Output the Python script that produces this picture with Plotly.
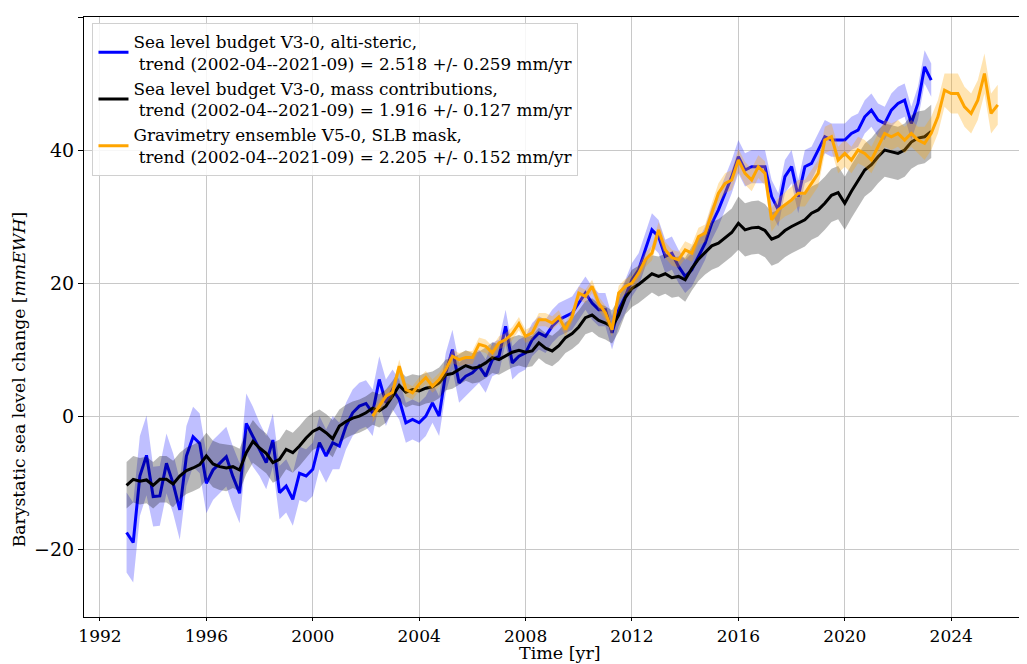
import numpy as np
import plotly.graph_objects as go

# ---------------- data (quarterly samples) ----------------
blue_start = 1993.0
blue_vals = [
    -17.5, -19.0, -9.0, -5.9,
    -12.1, -12.0, -7.1, -10.1,
    -14.1, -6.0, -3.1, -4.1,
    -10.1, -8.1, -7.1, -6.1,
    -9.1, -11.6, -1.1, -3.1,
    -5.0, -7.0, -3.6, -11.5,
    -10.5, -12.5, -8.6, -9.0,
    -8.0, -4.0, -6.0, -4.0,
    -4.5, -1.5, 0.5, 1.5,
    1.9, 0.5, 5.5, 2.0,
    4.0, 2.5, -1.0, -0.5,
    -1.0, 0.0, 2.0, 0.0,
    6.5, 10.0, 5.0, 6.0,
    6.5, 7.5, 6.0, 8.5,
    9.0, 13.5, 8.0, 9.0,
    9.5, 11.5, 12.5, 12.0,
    13.5, 14.5, 15.0, 15.5,
    17.0, 18.5, 17.0, 16.0,
    16.0, 12.5, 16.0, 18.0,
    20.5, 22.0, 25.0, 28.0,
    27.0, 24.0, 24.5, 22.5,
    21.0, 22.0, 24.0, 26.0,
    29.0, 31.0, 33.5, 36.0,
    39.0, 37.0, 37.5, 37.5,
    37.5, 33.0, 31.0, 36.0,
    37.5, 33.0, 37.5, 38.0,
    40.0, 42.0, 41.5, 41.5,
    41.5, 42.5, 43.0, 45.0,
    46.0, 44.5, 44.0, 46.0,
    47.0, 47.5, 44.0, 47.0,
    52.5, 50.5,
]
# yearly 1-sigma half widths 1993..2023
blue_unc_yearly = [6.0, 4.5, 4.5, 4.5, 4.5, 4.0, 4.0, 4.0, 3.5, 3.5, 3.0, 3.0, 3.0,
                   2.5, 2.5, 2.5, 2.5, 2.5, 2.5, 2.5, 2.5, 2.5, 2.5, 2.5, 2.5, 2.5,
                   2.5, 2.5, 2.5, 2.5, 2.5]

black_start = 1993.0
black_vals = [
    -10.4, -9.5, -9.8, -9.6,
    -10.4, -9.5, -9.5, -10.2,
    -9.0, -8.2, -7.8, -7.3,
    -6.0, -7.2, -7.6, -7.8,
    -7.6, -8.1, -5.5, -3.8,
    -4.8, -5.6, -7.0, -6.5,
    -5.0, -5.5, -4.5, -3.3,
    -2.3, -1.8, -2.5, -3.4,
    -1.5, -0.8, -0.3, 0.0,
    0.5, 1.2, 0.8, 1.5,
    3.0, 4.6, 3.6, 4.0,
    3.8, 4.2, 4.4, 5.0,
    6.2, 6.4, 7.0, 7.6,
    7.2, 7.4, 8.0, 8.8,
    8.5, 9.0, 9.6, 9.9,
    9.6, 9.8, 11.0, 10.2,
    9.8, 10.6, 11.8, 12.4,
    13.4, 14.8, 15.2, 14.4,
    14.0, 13.4, 15.2, 17.8,
    19.2, 19.8, 20.6, 21.4,
    21.0, 21.4, 20.8, 21.0,
    20.5, 22.2, 23.6, 24.6,
    25.6, 26.0, 26.8, 27.6,
    29.0, 28.0, 28.3, 28.4,
    27.9, 26.6, 27.0, 27.9,
    28.5, 29.0, 29.5, 30.5,
    31.0, 32.0, 33.2, 33.6,
    32.0, 33.8, 35.5, 37.0,
    37.8, 39.0, 40.0, 39.8,
    39.5, 40.0, 41.2, 41.8,
    42.0, 42.8,
]
black_unc_yearly = [3.5, 3.5, 3.5, 3.5, 3.2, 3.0, 3.0, 2.8, 2.5, 2.5, 2.3, 2.3, 2.3,
                    2.3, 2.3, 2.3, 2.3, 2.5, 2.5, 2.8, 3.0, 3.3, 3.6, 4.0, 4.0, 4.0,
                    4.0, 4.0, 4.0, 4.0, 4.0]

orange_start = 2002.25
orange_vals = [
    0.0, 1.5, 3.0,
    3.6, 7.5, 4.0, 3.5,
    4.8, 5.8, 4.5, 5.5,
    7.0, 9.0, 8.5, 8.8,
    8.8, 10.8, 10.5, 9.5,
    11.0, 11.5, 12.4, 13.9,
    12.0, 12.5, 14.5, 14.5,
    14.0, 14.9, 13.0, 15.0,
    18.5, 18.0, 19.5, 17.0,
    15.5, 13.0, 18.5, 19.5,
    20.0, 21.5, 23.5, 24.5,
    28.0, 25.0, 23.8, 23.5,
    25.0, 24.5, 27.0, 27.5,
    30.5, 33.5, 35.0, 35.5,
    38.5, 36.5, 35.5, 37.5,
    36.5, 29.5, 31.0, 31.8,
    32.5, 33.5, 33.5, 35.0,
    36.5, 41.5, 42.0, 38.5,
    39.5, 38.5, 40.0, 39.5,
    38.5, 40.5, 42.5, 42.0,
    42.5, 41.5, 42.5, 41.5,
    41.0, 42.5, 45.0, 49.0,
    48.5, 48.5, 46.5, 45.5,
    47.5, 51.5, 45.5, 46.8,
]
# yearly half widths 2002..2025
orange_unc_yearly = [1.0, 1.0, 1.0, 1.0, 1.0, 1.0, 1.0, 1.0, 1.0, 1.1, 1.1, 1.2,
                     1.3, 1.5, 1.7, 1.8, 2.0, 2.0, 2.0, 2.0, 2.0, 2.5, 3.0, 3.0]

labels = [
    "Sea level budget V3-0, alti-steric,<br> trend (2002-04--2021-09) = 2.518 +/- 0.259 mm/yr",
    "Sea level budget V3-0, mass contributions,<br> trend (2002-04--2021-09) = 1.916 +/- 0.127 mm/yr",
    "Gravimetry ensemble V5-0, SLB mask,<br> trend (2002-04--2021-09) = 2.205 +/- 0.152 mm/yr",
]
x_ticks = [1992, 1996, 2000, 2004, 2008, 2012, 2016, 2020, 2024]
y_ticks = [-20, 0, 20, 40, 60]


def series(start, vals, unc_yearly, offset):
    v = np.array(vals, dtype=float)
    t = start + 0.25 * np.arange(len(v))
    u = np.repeat(np.array(unc_yearly, dtype=float), 4)[offset:offset + len(v)]
    return t, v, u


fig = go.Figure()

specs = [
    (blue_start, blue_vals, blue_unc_yearly, 0, "#0000ff", "rgba(0,0,255,0.25)", labels[0]),
    (black_start, black_vals, black_unc_yearly, 0, "#000000", "rgba(0,0,0,0.28)", labels[1]),
    (orange_start, orange_vals, orange_unc_yearly, 1, "#ffa500", "rgba(255,165,0,0.3)", labels[2]),
]

for start, vals, unc, off, col, fillcol, lab in specs:
    t, v, u = series(start, vals, unc, off)
    fig.add_trace(go.Scatter(x=t, y=v - u, mode="lines", line=dict(width=0),
                             showlegend=False, hoverinfo="skip"))
    fig.add_trace(go.Scatter(x=t, y=v + u, mode="lines", line=dict(width=0),
                             fill="tonexty", fillcolor=fillcol,
                             showlegend=False, hoverinfo="skip"))
    fig.add_trace(go.Scatter(x=t, y=v, mode="lines", name=lab,
                             line=dict(color=col, width=3)))

font_family = "DejaVu Serif"

# the page body adds an 8 px offset, so the figure is 1019x656 placed at (8, 8)
fig.update_layout(
    width=1019, height=656,
    margin=dict(l=76, r=0, t=9, b=47),
    paper_bgcolor="white", plot_bgcolor="white",
    font=dict(family=font_family, size=16, color="black"),
    showlegend=True,
    legend=dict(
        x=0.009, y=0.99, xanchor="left", yanchor="top",
        traceorder="normal",
        bgcolor="rgba(255,255,255,0.85)", bordercolor="#d0d0d0", borderwidth=1,
        font=dict(family=font_family, size=16.8, color="black"),
    ),
    xaxis=dict(
        range=[1991.4, 2026.85],
        tickmode="array", tickvals=x_ticks, ticktext=[str(v) for v in x_ticks],
        showgrid=True, gridcolor="#c8c8c8", gridwidth=1,
        showline=True, linecolor="black", linewidth=1.2, mirror=True,
        ticks="outside", ticklen=3, tickcolor="black",
        tickfont=dict(family=font_family, size=17),
        zeroline=False, automargin=False,
    ),
    yaxis=dict(
        range=[-30.2, 60],
        tickmode="array", tickvals=y_ticks, ticktext=["\u221220", "0", "20", "40", "60"],
        showgrid=True, gridcolor="#c8c8c8", gridwidth=1,
        showline=True, linecolor="black", linewidth=1.2,
        ticks="outside", ticklen=5, tickcolor="black",
        tickfont=dict(family=font_family, size=19),
        zeroline=False, automargin=False,
    ),
    annotations=[
        dict(
            text="Barystatic sea level change [<i>mmEWH</i>]",
            xref="paper", yref="paper", x=-0.068, y=0.396,
            xanchor="center", yanchor="middle", textangle=-90, showarrow=False,
            font=dict(family=font_family, size=17.2, color="black"),
        ),
        dict(
            text="Time [yr]",
            xref="paper", yref="paper", x=0.505, y=-0.0785,
            xanchor="center", yanchor="bottom", showarrow=False, borderpad=0,
            font=dict(family=font_family, size=17.5, color="black"),
        ),
    ],
)

fig.write_html("out.html")
